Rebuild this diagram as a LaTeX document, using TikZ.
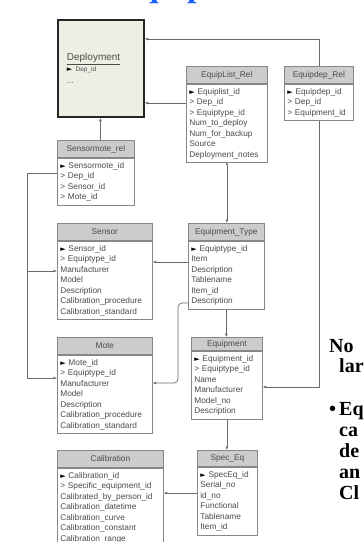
\documentclass[tikz,border=0pt]{standalone}
\usepackage{fontspec}
\setmainfont{Liberation Serif}
\newfontfamily\tblfont{Liberation Sans}
\newfontfamily\symfont{DejaVu Sans}
\usetikzlibrary{arrows.meta}
\definecolor{hdrgray}{RGB}{204,204,204}
\definecolor{boxgray}{RGB}{135,135,135}
\definecolor{txtgray}{RGB}{75,75,75}
\definecolor{linegray}{RGB}{105,105,105}
\definecolor{depfill}{RGB}{238,238,228}
\definecolor{titleblue}{RGB}{25,95,255}
\newcommand{\pk}{{\color{black}\symfont\fontsize{7}{7}\selectfont\char"25BA}\ }
\newcommand{\fk}{>\ }
\begin{document}
\begin{tikzpicture}[x=1pt, y=-1pt,
  hdr/.style={draw=boxgray, fill=hdrgray, line width=0.7pt, anchor=north west, minimum height=17, inner sep=0pt, font=\tblfont\fontsize{8.3}{10}\selectfont, text=txtgray},
  rows/.style={draw=boxgray, fill=white, line width=0.7pt, anchor=north west, inner xsep=3pt, inner ysep=4pt, align=left, font=\tblfont\fontsize{8.3}{10.5}\selectfont, text=txtgray},
  link/.style={draw=linegray, line width=0.7pt, -{Latex[length=3.5pt,width=3pt]}},
  slide/.style={anchor=base west, inner sep=0pt, font=\bfseries\fontsize{20}{21}\selectfont}]
\useasboundingbox (0,0) rectangle (364,542);
\clip (0,0) rectangle (364,542);

% title, cut off by the frame
\node[anchor=base west, inner sep=0pt, text=titleblue, font=\bfseries\fontsize{34}{36}\selectfont] (ttl) at (117,-4) {Equipment};

% deployment
\node[draw=black!85, line width=1.8pt, fill=depfill, minimum width=86, minimum height=97, anchor=north west, inner xsep=9pt, text width=68pt, align=left, text=txtgray, font=\tblfont\fontsize{10}{11}\selectfont] (dep) at (57,19)
  {\underline{Deployment}\\ {\fontsize{6.5}{8}\selectfont\pk Dep\_id}\\[1pt] {\fontsize{8}{10}\selectfont ...}};

% relation tables
\node[hdr, minimum width=81] (elisth) at (186,66) {EquipList\_Rel};
\node[rows, text width=75pt] (elist) at (elisth.south west) {\pk Equiplist\_id\\\fk Dep\_id\\\fk Equiptype\_id\\Num\_to\_deploy\\Num\_for\_backup\\Source\\Deployment\_notes};
\node[hdr, minimum width=69] (edeph) at (284,66) {Equipdep\_Rel};
\node[rows, text width=63pt] (edep) at (edeph.south west) {\pk Equipdep\_id\\\fk Dep\_id\\\fk Equipment\_id};
\node[hdr, minimum width=77] (smrh) at (57,140) {Sensormote\_rel};
\node[rows, text width=71pt] (smr) at (smrh.south west) {\pk Sensormote\_id\\\fk Dep\_id\\\fk Sensor\_id\\\fk Mote\_id};

% equipment tables
\node[hdr, minimum width=95] (senh) at (57,223) {Sensor};
\node[rows, text width=89pt] (sen) at (senh.south west) {\pk Sensor\_id\\\fk Equiptype\_id\\Manufacturer\\Model\\Description\\Calibration\_procedure\\Calibration\_standard};
\node[hdr, minimum width=76] (etypeh) at (188,223) {Equipment\_Type};
\node[rows, text width=70pt] (etype) at (etypeh.south west) {\pk Equiptype\_id\\Item\\Description\\Tablename\\Item\_id\\Description};
\node[hdr, minimum width=95] (moteh) at (57,337) {Mote};
\node[rows, text width=89pt] (mote) at (moteh.south west) {\pk Mote\_id\\\fk Equiptype\_id\\Manufacturer\\Model\\Description\\Calibration\_procedure\\Calibration\_standard};
\node[hdr, minimum width=71, minimum height=13] (equiph) at (191,337) {Equipment};
\node[rows, text width=65pt] (equip) at (equiph.south west) {\pk Equipment\_id\\\fk Equiptype\_id\\Name\\Manufacturer\\Model\_no\\Description};
\node[hdr, minimum width=106] (calh) at (57,450) {Calibration};
\node[rows, text width=100pt] (cal) at (calh.south west) {\pk Calibration\_id\\\fk Specific\_equipment\_id\\Calibrated\_by\_person\_id\\Calibration\_datetime\\Calibration\_curve\\Calibration\_constant\\Calibration\_range};
\node[hdr, minimum width=60, minimum height=16] (speqh) at (197,450) {Spec\_Eq};
\node[rows, text width=54pt] (speq) at (speqh.south west) {\pk SpecEq\_id\\Serial\_no\\id\_no\\Functional\\Tablename\\Item\_id};

% links
\draw[link] (edeph.north) |- (dep.east |- 0,39);
\draw[link] (elist.west |- 0,103) -- (dep.east |- 0,103);
\draw[link] ([xshift=4.5pt]smrh.north) -- ([xshift=4.5pt]smrh.north |- dep.south);
\draw[link] (smr.west |- 0,173) -| (27,271) -- (sen.west |- 0,271);
\draw[link] (27,271) |- (mote.west |- 0,378);
\draw[link, {Circle[length=2pt]}-{Latex[length=3.5pt,width=3pt]}] (elist.south) -- (elist.south |- etypeh.north);
\draw[link] (etype.west |- 0,262) -- (sen.east |- 0,262);
\draw[link, rounded corners=4pt] (etype.west |- 0,303) -| (178,383) -- (mote.east |- 0,383);
\draw[link] (etype.south) -- (etype.south |- equiph.north);
\draw[link] (edep.south) |- (equip.east |- 0,387);
\draw[link] (equip.south) -- (equip.south |- speqh.north);
\draw[link] (speq.west |- 0,493) -- (cal.east |- 0,493);

% slide text, cut off by the frame
\node[slide] (no) at (329,352) {No};
\node[slide] (lar) at (339,372) {lar};
\node[slide] (bul) at (329,415) {\textbullet};
\node[slide] (eq) at (339,415) {Eq};
\node[slide] (ca) at (339,436) {ca};
\node[slide] (de) at (339,457) {de};
\node[slide] (an) at (339,478) {an};
\node[slide] (cl) at (339,499) {Cl};
\end{tikzpicture}
\end{document}
